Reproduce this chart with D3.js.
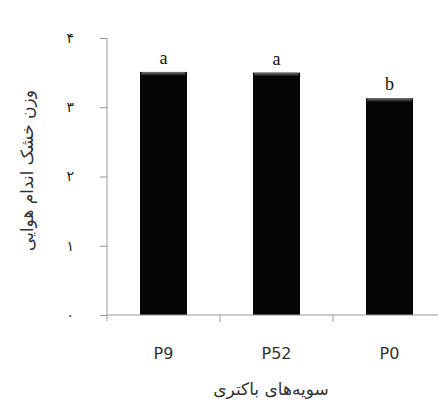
<!DOCTYPE html>
<html>
<head>
<meta charset="utf-8">
<script src="https://cdn.jsdelivr.net/npm/d3@7"></script>
<style>
  body { margin: 0; background: #fff; }
</style>
</head>
<body>
<div id="chart"></div>
<script>
// data
const strains = ["P9", "P52", "P0"];
const dryWeight = [3.51, 3.50, 3.13];
const groups = ["a", "a", "b"];
const yTicks = [0, 1, 2, 3, 4];
const persianDigits = ["۰", "۱", "۲", "۳", "۴"];

const width = 438, height = 410;
const margin = { top: 38, right: -8, bottom: 95, left: 107 };

const svg = d3.select("#chart").append("svg")
    .attr("width", width)
    .attr("height", height);

const x = d3.scaleBand()
    .domain(strains)
    .range([margin.left, width - margin.right])
    .paddingInner(0.584)
    .paddingOuter(0.292);

const y = d3.scaleLinear()
    .domain([0, 4])
    .range([height - margin.bottom, margin.top]);

// top shine on the bars
const defs = svg.append("defs");
const grad = defs.append("linearGradient")
    .attr("id", "shine")
    .attr("x1", 0).attr("x2", 0).attr("y1", 0).attr("y2", 1);
grad.append("stop").attr("offset", "0%").attr("stop-color", "#777");
grad.append("stop").attr("offset", "100%").attr("stop-color", "#000");

// bars
const bars = svg.append("g");
bars.selectAll("rect.bar")
    .data(dryWeight)
    .enter().append("rect")
    .attr("class", "bar")
    .attr("x", (d, i) => x(strains[i]))
    .attr("y", d => y(d))
    .attr("width", x.bandwidth())
    .attr("height", d => y(0) - y(d))
    .attr("fill", "#050505");

bars.selectAll("rect.shine")
    .data(dryWeight)
    .enter().append("rect")
    .attr("class", "shine")
    .attr("x", (d, i) => x(strains[i]) + 1)
    .attr("y", d => y(d))
    .attr("width", x.bandwidth() - 2)
    .attr("height", 4)
    .attr("rx", 2)
    .attr("fill", "url(#shine)");

// significance letters
svg.append("g")
    .selectAll("text")
    .data(groups)
    .enter().append("text")
    .attr("x", (d, i) => x(strains[i]) + x.bandwidth() / 2)
    .attr("y", (d, i) => y(dryWeight[i]) - 8)
    .attr("text-anchor", "middle")
    .style("font-family", "Liberation Serif, serif")
    .style("font-size", "18px")
    .style("fill", "#111")
    .text(d => d);

// y axis
const yAxis = svg.append("g")
    .attr("transform", `translate(${margin.left},0)`)
    .call(d3.axisLeft(y).tickValues(yTicks).tickSize(7).tickFormat(d => persianDigits[d]));
yAxis.select(".domain").attr("stroke", "#999").attr("d", `M0,${y(4)}V${y(0) + 6}`);
yAxis.selectAll(".tick line").attr("stroke", "#999");
yAxis.selectAll(".tick text")
    .attr("x", -33)
    .style("font-family", "DejaVu Sans, sans-serif")
    .style("font-size", "14px")
    .style("fill", "#222");

// x axis with ticks at category boundaries
const xAxis = svg.append("g")
    .attr("transform", `translate(0,${y(0)})`);
xAxis.append("line")
    .attr("x1", margin.left).attr("x2", width)
    .attr("stroke", "#999");
const step = x.step();
const bounds = strains.map((s, i) => x(s) - x.paddingInner() * step / 2);
xAxis.selectAll("line.tick")
    .data(bounds.slice(1))
    .enter().append("line")
    .attr("class", "tick")
    .attr("x1", d => d).attr("x2", d => d)
    .attr("y1", 0).attr("y2", 7)
    .attr("stroke", "#999");
xAxis.selectAll("text")
    .data(strains)
    .enter().append("text")
    .attr("x", d => x(d) + x.bandwidth() / 2)
    .attr("y", 44)
    .attr("text-anchor", "middle")
    .style("font-family", "DejaVu Sans, sans-serif")
    .style("font-size", "16px")
    .style("fill", "#333")
    .text(d => d);

// axis titles
svg.append("text")
    .attr("x", 271)
    .attr("y", 395)
    .attr("text-anchor", "middle")
    .style("font-family", "DejaVu Sans, sans-serif")
    .style("font-size", "17px")
    .style("fill", "#333")
    .text("سویه‌های باکتری");

svg.append("text")
    .attr("transform", `translate(33,${(y(0) + y(4)) / 2 - 6}) rotate(-90)`)
    .attr("text-anchor", "middle")
    .style("font-family", "DejaVu Sans, sans-serif")
    .style("font-size", "17px")
    .style("fill", "#333")
    .text("وزن خشک اندام هوایی");
</script>
</body>
</html>
